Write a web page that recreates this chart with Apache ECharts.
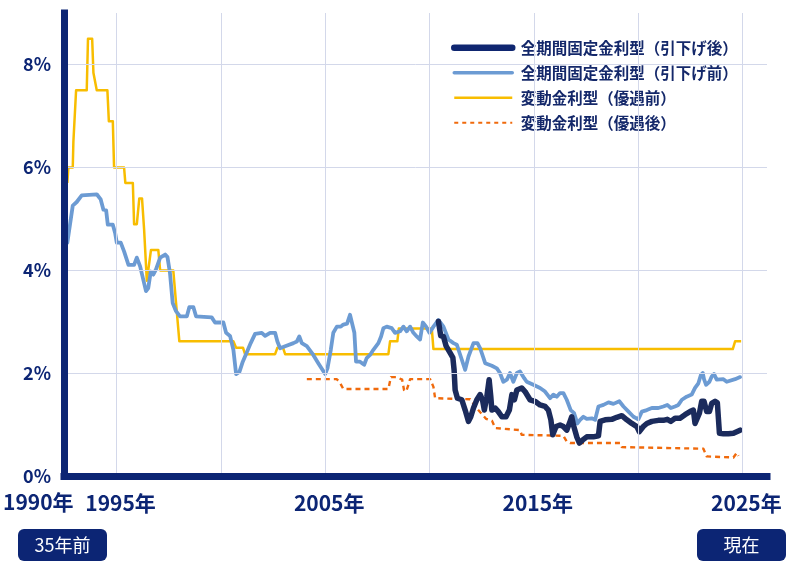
<!DOCTYPE html>
<html>
<head>
<meta charset="utf-8">
<script src="https://cdn.jsdelivr.net/npm/echarts@6/dist/echarts.min.js"></script>
<style>
  html, body { margin: 0; padding: 0; background: #fff; }
  #main { width: 798px; height: 575px; }
</style>
</head>
<body>
<div id="main"></div>
<script>
// 系列名
var seriesNames = ['全期間固定金利型（引下げ後）', '全期間固定金利型（引下げ前）', '変動金利型（優遇前）', '変動金利型（優遇後）'];

// 目盛り
var gridYears = [1995, 2000, 2005, 2010, 2015, 2020, 2025];
var labelYears = [1995, 2005, 2015, 2025];
var pctLines = [2, 4, 6, 8];

// 全期間固定金利型（引下げ後）
var fixedAfter = [
  [2010.43,3.01],[2010.54,2.73],[2010.67,2.72],[2010.80,2.53],[2010.99,2.40],[2011.12,2.31],[2011.18,2.07],
  [2011.23,1.68],[2011.34,1.52],[2011.55,1.49],[2011.71,1.29],[2011.87,1.07],[2011.98,1.16],[2012.11,1.33],
  [2012.27,1.49],[2012.43,1.59],[2012.54,1.49],[2012.63,1.29],[2012.75,1.55],[2012.86,1.88],[2012.94,1.55],
  [2012.99,1.29],[2013.15,1.33],[2013.30,1.26],[2013.47,1.16],[2013.67,1.16],[2013.83,1.29],[2013.95,1.59],
  [2014.07,1.49],[2014.19,1.68],[2014.42,1.72],[2014.58,1.65],[2014.82,1.49],[2015.06,1.46],[2015.30,1.39],
  [2015.54,1.36],[2015.70,1.29],[2015.82,1.10],[2015.91,0.81],[2016.07,0.97],[2016.26,1.00],[2016.42,0.97],
  [2016.58,0.90],[2016.74,1.07],[2016.82,1.16],[2016.90,1.00],[2017.06,0.77],[2017.19,0.65],[2017.35,0.71],
  [2017.54,0.77],[2017.86,0.77],[2018.10,0.79],[2018.18,1.07],[2018.42,1.10],[2018.74,1.11],[2018.98,1.15],
  [2019.22,1.18],[2019.46,1.10],[2019.70,1.03],[2019.94,0.97],[2020.06,0.87],[2020.25,0.97],[2020.42,1.03],
  [2020.66,1.07],[2020.97,1.09],[2021.21,1.09],[2021.40,1.11],[2021.57,1.07],[2021.77,1.13],[2022.01,1.13],
  [2022.25,1.20],[2022.49,1.26],[2022.65,1.29],[2022.73,1.03],[2022.81,1.03],[2022.94,1.23],[2023.05,1.46],
  [2023.16,1.46],[2023.29,1.26],[2023.42,1.26],[2023.53,1.42],[2023.69,1.46],[2023.80,1.43],[2023.90,0.84],
  [2024.09,0.83],[2024.33,0.83],[2024.57,0.84],[2024.73,0.87],[2024.89,0.90]
];

// 全期間固定金利型（引下げ前）
var fixedBefore = [
  [1992.64,4.54],[1992.90,5.26],[1993.09,5.33],[1993.33,5.46],[1994.05,5.48],[1994.24,5.38],[1994.37,5.18],
  [1994.50,5.17],[1994.58,4.89],[1994.82,4.89],[1994.93,4.73],[1995.01,4.54],[1995.20,4.54],[1995.36,4.37],
  [1995.57,4.11],[1995.84,4.11],[1995.97,4.25],[1996.13,4.08],[1996.41,3.60],[1996.52,3.66],[1996.64,3.98],
  [1996.76,3.92],[1996.89,4.02],[1997.09,4.25],[1997.33,4.31],[1997.44,4.26],[1997.56,3.95],[1997.69,3.37],
  [1997.85,3.21],[1998.04,3.11],[1998.37,3.11],[1998.49,3.29],[1998.68,3.29],[1998.81,3.11],[1999.56,3.09],
  [1999.72,2.99],[2000.12,2.99],[2000.25,2.79],[2000.44,2.73],[2000.60,2.46],[2000.73,1.99],[2000.89,2.03],
  [2001.05,2.23],[2001.24,2.41],[2001.43,2.59],[2001.64,2.77],[2001.96,2.79],[2002.12,2.73],[2002.36,2.79],
  [2002.60,2.79],[2002.71,2.62],[2002.84,2.49],[2003.08,2.53],[2003.48,2.59],[2003.64,2.62],[2003.76,2.72],
  [2003.88,2.59],[2004.12,2.53],[2004.43,2.36],[2004.67,2.20],[2005.00,1.99],[2005.11,2.10],[2005.27,2.46],
  [2005.39,2.79],[2005.56,2.91],[2005.75,2.91],[2005.87,2.95],[2006.05,2.97],[2006.19,3.14],[2006.28,3.16],
  [2006.40,2.79],[2006.48,2.23],[2006.67,2.23],[2006.87,2.17],[2006.99,2.30],[2007.15,2.36],[2007.31,2.46],
  [2007.55,2.59],[2007.68,2.72],[2007.79,2.88],[2007.95,2.91],[2008.19,2.88],[2008.35,2.79],[2008.59,2.82],
  [2008.75,2.91],[2008.91,2.82],[2009.07,2.91],[2009.23,2.79],[2009.39,2.72],[2009.55,2.66],[2009.68,2.99],
  [2009.84,2.91],[2010.00,2.79],[2010.19,2.91],[2010.43,3.04],[2010.67,2.91],[2010.91,2.66],[2011.15,2.59],
  [2011.31,2.56],[2011.50,2.33],[2011.71,2.07],[2011.87,2.33],[2012.11,2.59],[2012.30,2.59],[2012.43,2.49],
  [2012.67,2.20],[2012.99,2.15],[2013.23,2.10],[2013.38,2.01],[2013.54,1.84],[2013.71,1.88],[2013.86,2.01],
  [2014.02,1.84],[2014.19,2.01],[2014.34,2.04],[2014.54,1.91],[2014.66,1.84],[2014.98,1.78],[2015.30,1.72],
  [2015.54,1.65],[2015.78,1.52],[2015.94,1.59],[2016.10,1.55],[2016.26,1.62],[2016.42,1.62],[2016.58,1.49],
  [2016.77,1.29],[2016.93,1.23],[2017.09,1.03],[2017.22,1.10],[2017.38,1.16],[2017.54,1.12],[2017.78,1.13],
  [2017.94,1.10],[2018.10,1.36],[2018.34,1.39],[2018.58,1.44],[2018.82,1.41],[2019.10,1.46],[2019.30,1.36],
  [2019.54,1.26],[2019.78,1.16],[2020.01,1.11],[2020.18,1.26],[2020.42,1.29],[2020.66,1.33],[2020.97,1.33],
  [2021.21,1.36],[2021.40,1.39],[2021.57,1.33],[2021.77,1.36],[2021.93,1.39],[2022.10,1.49],[2022.33,1.55],
  [2022.57,1.59],[2022.73,1.72],[2022.89,1.81],[2023.01,1.97],[2023.10,2.01],[2023.16,1.89],[2023.26,1.78],
  [2023.42,1.84],[2023.53,1.94],[2023.64,1.99],[2023.77,1.88],[2024.09,1.89],[2024.25,1.84],[2024.65,1.89],
  [2024.89,1.93]
];

// 変動金利型（優遇前）
var variableBefore = [
  [1992.64,5.70],[1992.69,6.00],[1992.90,6.00],[1992.93,6.50],[1993.00,6.50],[1993.06,7.50],[1993.57,7.50],
  [1993.63,8.50],[1993.83,8.50],[1993.89,7.84],[1993.95,7.81],[1994.05,7.50],[1994.56,7.50],[1994.63,6.90],
  [1994.82,6.90],[1994.88,6.00],[1995.36,6.00],[1995.42,5.70],[1995.78,5.70],[1995.84,4.90],[1995.97,4.90],
  [1996.09,5.40],[1996.22,5.40],[1996.32,4.80],[1996.45,3.80],[1996.51,3.80],[1996.65,4.40],[1997.00,4.40],
  [1997.09,4.00],[1997.72,4.00],[1997.85,3.375],[1998.01,2.625],[2000.60,2.625],[2000.73,2.50],[2001.06,2.50],
  [2001.16,2.375],[2002.60,2.375],[2002.71,2.50],[2002.98,2.50],[2003.08,2.375],[2008.03,2.375],[2008.11,2.625],
  [2008.46,2.625],[2008.53,2.875],[2010.11,2.875],[2010.19,2.475],[2024.54,2.475],[2024.65,2.625],[2024.94,2.625]
];

// 変動金利型（優遇後）
var variableAfter = [
  [2004.12,1.89],[2005.56,1.89],[2005.71,1.82],[2005.87,1.70],[2008.03,1.70],[2008.15,1.93],[2008.43,1.93],
  [2008.69,1.88],[2008.78,1.68],[2008.88,1.65],[2008.99,1.78],[2009.07,1.89],[2010.03,1.89],[2010.19,1.74],
  [2010.27,1.52],[2011.95,1.50],[2012.34,1.29],[2012.71,1.12],[2013.00,1.08],[2013.15,0.94],[2014.34,0.90],
  [2014.42,0.81],[2016.42,0.79],[2016.58,0.68],[2016.74,0.65],[2019.14,0.65],[2019.22,0.57],[2019.30,0.54],
  [2023.13,0.54],[2023.29,0.39],[2024.57,0.37],[2024.73,0.46],[2024.81,0.40]
];

var navy = '#0c2574';
var gridColor = '#d3d8ea';

var markData = [];
gridYears.forEach(function (y) { markData.push({ xAxis: y }); });
pctLines.forEach(function (p) { markData.push({ yAxis: p }); });

var option = {
  animation: false,
  backgroundColor: '#fff',
  textStyle: { fontFamily: 'Noto Sans CJK JP' },
  grid: { left: 64, right: 31, top: 13, bottom: 98.5 },
  legend: {
    orient: 'vertical',
    left: 446,
    top: 35,
    itemWidth: 58,
    itemHeight: 14,
    itemGap: 9.5,
    itemStyle: { opacity: 0 },
    data: [
      { name: seriesNames[0], lineStyle: { width: 6.5, cap: 'round', color: '#0f2670' } },
      { name: seriesNames[1], lineStyle: { width: 3.5 } },
      { name: seriesNames[2], lineStyle: { width: 2.5 } },
      { name: seriesNames[3], lineStyle: { width: 2, type: [4, 4] } }
    ],
    formatter: function (n) { return ' ' + n; },
    textStyle: { fontSize: 15.5, fontWeight: 'bold', color: '#14286a', fontFamily: 'Noto Sans CJK JP' }
  },
  xAxis: {
    type: 'value',
    min: 1992.48,
    max: 2026.18,
    z: 5,
    axisLine: { show: true, onZero: false, lineStyle: { color: navy, width: 7, cap: 'square' } },
    axisTick: { show: false },
    splitLine: { show: false },
    axisLabel: {
      customValues: labelYears,
      margin: 16,
      padding: [0, 0, 0, 8],
      fontSize: 21,
      fontWeight: 'bold',
      color: navy,
      formatter: function (v) { return v + '年'; }
    }
  },
  yAxis: {
    type: 'value',
    min: 0,
    max: 9,
    interval: 2,
    z: 5,
    axisLine: { show: true, onZero: false, lineStyle: { color: navy, width: 7, cap: 'square' } },
    axisTick: { show: false },
    splitLine: { show: false },
    axisLabel: {
      margin: 13,
      fontSize: 18,
      fontWeight: 'bold',
      color: navy,
      formatter: function (v) { return v > 8 ? '' : v + '%'; }
    }
  },
  series: [
    {
      name: 'grid',
      type: 'line',
      data: [],
      z: 1,
      silent: true,
      markLine: {
        silent: true,
        symbol: 'none',
        label: { show: false },
        lineStyle: { color: gridColor, width: 1, type: 'solid' },
        emphasis: { disabled: true },
        data: markData
      }
    },
    {
      name: seriesNames[2],
      type: 'line',
      data: variableBefore,
      symbol: 'none',
      z: 2,
      color: '#f8bd00',
      lineStyle: { color: '#f8bd00', width: 2.5, join: 'round' }
    },
    {
      name: seriesNames[3],
      type: 'line',
      data: variableAfter,
      symbol: 'none',
      z: 3,
      color: '#f06a0c',
      lineStyle: { color: '#f06a0c', width: 2.4, type: [5, 4], join: 'round' }
    },
    {
      name: seriesNames[1],
      type: 'line',
      data: fixedBefore,
      symbol: 'none',
      z: 4,
      color: '#6c9bd3',
      lineStyle: { color: '#6c9bd3', width: 3.8, join: 'round', cap: 'round' }
    },
    {
      name: seriesNames[0],
      type: 'line',
      data: fixedAfter,
      symbol: 'none',
      z: 4,
      color: '#1b2b5c',
      lineStyle: { color: '#1b2b5c', width: 5.5, join: 'round', cap: 'round' }
    }
  ],
  graphic: [
    {
      type: 'text', left: 3, top: 492, z: 10,
      style: { text: '1990年', fontSize: 21, fontWeight: 'bold', fill: navy, fontFamily: 'Noto Sans CJK JP' }
    },
    {
      type: 'group', left: 18, top: 529, z: 10,
      children: [
        { type: 'rect', shape: { x: 0, y: 0, width: 89, height: 32, r: 6 }, style: { fill: navy } },
        { type: 'text', x: 44.5, y: 16, style: { text: '35年前', fontSize: 18, fill: '#fff', align: 'center', verticalAlign: 'middle', fontFamily: 'Noto Sans CJK JP' } }
      ]
    },
    {
      type: 'group', left: 697, top: 529, z: 10,
      children: [
        { type: 'rect', shape: { x: 0, y: 0, width: 89, height: 32, r: 6 }, style: { fill: navy } },
        { type: 'text', x: 44.5, y: 16, style: { text: '現在', fontSize: 18, fill: '#fff', align: 'center', verticalAlign: 'middle', fontFamily: 'Noto Sans CJK JP' } }
      ]
    }
  ]
};

var myChart = echarts.init(document.getElementById('main'));
myChart.setOption(option);
</script>
</body>
</html>
